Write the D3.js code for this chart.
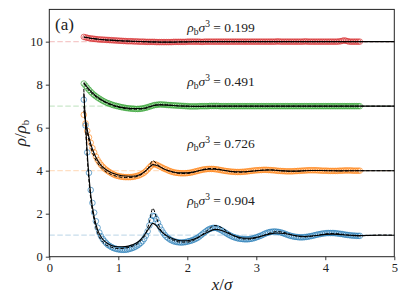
<!DOCTYPE html>
<html lang="en">
<head>
<meta charset="utf-8">
<title>density profiles</title>
<style>
  body { margin: 0; background: #fff; }
  svg text { font-family: "Liberation Serif", "DejaVu Serif", serif; fill: #222; }
</style>
</head>
<body>
<svg id="chart"></svg>
<script src="https://cdn.jsdelivr.net/npm/d3@7"></script>
<script>
// bulk densities, one curve each, shifted up by offset
var densities = ["0.199", "0.491", "0.726", "0.904"];
var offsets = [9, 6, 3, 0];
var colors = ["#d62728", "#2ca02c", "#ff7f0e", "#1f77b4"];
var xTicks = [0, 1, 2, 3, 4, 5];
var yTicks = [0, 2, 4, 6, 8, 10];

// simulation points (circles), x from 0.500 to 4.500 every 0.025, one row = 0.5 sigma
var simX = d3.range(161).map(function(i) { return +(0.5 + 0.025 * i).toFixed(3); });
var simRed = [
  1.22,1.20,1.18,1.16,1.15,1.14,1.13,1.12,1.11,1.10,1.10,1.09,1.09,1.08,1.08,1.07,1.07,1.06,1.06,1.05,
  1.05,1.04,1.04,1.03,1.03,1.02,1.02,1.02,1.02,1.01,1.01,1.01,1.00,1.00,1.00,1.00,0.99,0.99,0.99,0.99,
  0.99,0.99,0.98,0.98,0.98,0.98,0.98,0.98,0.98,0.98,0.98,0.98,0.99,0.99,0.99,0.99,0.99,0.99,0.99,0.99,
  1.00,1.00,1.00,1.00,1.00,1.00,1.00,1.00,0.99,0.99,1.00,1.00,1.00,1.00,1.00,1.00,1.00,1.00,1.00,1.00,
  1.00,1.00,1.00,1.00,1.00,1.00,1.00,1.00,1.00,1.00,1.00,1.00,1.00,1.00,1.00,1.00,1.00,1.00,1.00,1.00,
  1.00,1.00,1.00,1.00,1.00,1.00,1.00,1.00,1.00,1.00,1.00,1.00,1.01,1.01,1.00,1.00,1.00,1.00,1.00,1.00,
  1.00,1.00,1.00,1.00,1.00,1.00,1.00,1.00,1.01,1.01,1.00,1.00,1.00,1.00,1.00,1.00,1.00,1.00,1.00,1.00,
  1.00,1.00,1.00,1.00,1.00,1.00,1.00,1.00,1.01,1.02,1.04,1.06,1.04,1.02,1.00,1.00,1.00,1.00,1.00,1.00,
  1.00];
var simGreen = [
  2.05,1.95,1.85,1.76,1.67,1.59,1.52,1.46,1.40,1.35,1.30,1.25,1.21,1.17,1.14,1.11,1.08,1.05,1.03,1.01,
  0.99,0.97,0.95,0.94,0.92,0.91,0.90,0.89,0.88,0.88,0.87,0.87,0.87,0.88,0.89,0.91,0.93,0.95,0.98,1.00,
  1.03,1.05,1.06,1.07,1.08,1.08,1.07,1.07,1.06,1.05,1.05,1.04,1.04,1.03,1.03,1.02,1.02,1.01,1.01,1.00,
  1.00,0.99,0.99,0.99,0.99,0.99,0.99,1.00,1.00,1.00,1.00,1.00,1.00,1.01,1.01,1.01,1.01,1.01,1.01,1.00,
  1.00,1.00,1.00,1.00,1.00,1.00,1.00,1.00,1.00,1.00,1.00,1.00,1.00,1.00,1.00,1.00,1.00,1.00,1.00,1.00,
  1.00,1.00,1.00,1.00,1.00,1.00,1.00,1.00,1.00,1.00,1.00,1.00,1.00,1.00,1.00,1.00,1.00,1.00,1.00,1.00,
  1.00,1.00,1.00,1.00,1.00,1.00,1.00,1.00,1.00,1.00,1.00,1.00,1.00,1.00,1.00,1.00,1.00,1.00,1.00,1.00,
  1.00,1.00,1.00,1.00,1.00,1.00,1.00,1.00,1.00,1.00,1.00,1.00,1.00,1.00,1.00,1.00,1.00,1.00,1.00,1.00,
  1.00];
var simOrange = [
  3.60,3.20,2.85,2.55,2.30,2.05,1.85,1.66,1.50,1.38,1.27,1.18,1.10,1.04,0.98,0.93,0.88,0.84,0.80,0.77,
  0.75,0.73,0.72,0.71,0.70,0.70,0.70,0.70,0.71,0.72,0.74,0.76,0.78,0.82,0.86,0.91,0.98,1.06,1.15,1.23,
  1.30,1.30,1.28,1.24,1.20,1.16,1.12,1.08,1.05,1.01,0.98,0.95,0.93,0.91,0.90,0.89,0.88,0.88,0.88,0.88,
  0.89,0.90,0.91,0.93,0.95,0.97,0.99,1.01,1.03,1.05,1.06,1.07,1.08,1.08,1.08,1.08,1.07,1.06,1.05,1.03,
  1.02,1.00,0.99,0.98,0.97,0.96,0.95,0.95,0.94,0.94,0.94,0.94,0.95,0.95,0.96,0.97,0.98,0.99,1.00,1.01,
  1.02,1.02,1.03,1.03,1.04,1.04,1.04,1.03,1.03,1.02,1.02,1.01,1.00,0.99,0.99,0.98,0.98,0.97,0.97,0.97,
  0.97,0.97,0.98,0.98,0.99,0.99,1.00,1.00,1.01,1.01,1.02,1.02,1.02,1.02,1.02,1.02,1.01,1.01,1.00,1.00,
  1.00,1.00,0.99,0.99,0.99,0.99,0.99,0.99,1.00,1.00,1.00,1.01,1.01,1.01,1.01,1.01,1.00,1.00,1.00,1.00,
  1.00];
var simBlue = [
  7.30,6.10,4.85,3.90,3.10,2.50,2.05,1.65,1.35,1.12,0.95,0.82,0.72,0.63,0.55,0.50,0.45,0.41,0.38,0.36,
  0.34,0.33,0.32,0.32,0.32,0.33,0.35,0.37,0.40,0.43,0.47,0.52,0.57,0.64,0.72,0.83,0.98,1.18,1.45,1.70,
  1.90,1.88,1.75,1.58,1.40,1.25,1.12,1.01,0.92,0.86,0.80,0.76,0.72,0.70,0.68,0.67,0.66,0.66,0.67,0.68,
  0.70,0.72,0.74,0.77,0.80,0.84,0.88,0.94,1.00,1.07,1.13,1.19,1.25,1.29,1.32,1.34,1.34,1.33,1.30,1.26,
  1.22,1.17,1.12,1.07,1.02,0.98,0.94,0.91,0.88,0.86,0.84,0.83,0.82,0.81,0.81,0.81,0.82,0.83,0.85,0.87,
  0.90,0.93,0.96,0.99,1.03,1.07,1.10,1.13,1.15,1.16,1.17,1.17,1.16,1.15,1.13,1.11,1.08,1.05,1.02,0.99,
  0.97,0.95,0.93,0.92,0.91,0.90,0.90,0.90,0.91,0.92,0.93,0.95,0.96,0.98,1.00,1.02,1.04,1.05,1.07,1.08,
  1.09,1.10,1.10,1.10,1.10,1.10,1.09,1.08,1.07,1.06,1.05,1.03,1.02,1.01,1.00,0.99,0.98,0.98,0.97,0.97,
  0.97];

// theory curves (solid and dashed) on these x knots
var theoryX = [0.5,0.55,0.6,0.65,0.7,0.75,0.8,0.9,1.0,1.1,1.2,1.3,1.4,1.45,1.5,1.55,1.6,
  1.7,1.8,1.9,2.0,2.1,2.2,2.3,2.4,2.5,2.6,2.7,2.8,2.9,3.0,3.1,3.2,3.3,3.4,3.5,3.6,
  3.7,3.8,3.9,4.0,4.1,4.2,4.3,4.4,4.5,4.6,4.8,5.0];
var solidRed = [1.22,1.19,1.16,1.14,1.12,1.10,1.09,1.07,1.05,1.03,1.02,1.01,1.00,0.99,0.99,0.99,0.98,
  0.98,0.98,0.99,0.99,1.00,1.00,1.00,1.00,1.00,1.00,1.00,1.00,1.00,1.00,1.00,1.00,1.00,1.00,1.00,1.00,
  1.00,1.00,1.00,1.00,1.00,1.00,1.00,1.00,1.00,1.00,1.00,1.00];
var dashRed = [1.21,1.18,1.15,1.13,1.11,1.10,1.08,1.06,1.04,1.03,1.01,1.00,0.99,0.99,0.98,0.98,0.98,
  0.98,0.98,0.99,0.99,1.00,1.00,1.00,1.00,1.00,1.00,1.00,1.00,1.00,1.00,1.00,1.00,1.00,1.00,1.00,1.00,
  1.00,1.00,1.00,1.00,1.00,1.00,1.00,1.00,1.00,1.00,1.00,1.00];
var solidGreen = [2.10,1.88,1.70,1.55,1.42,1.31,1.22,1.08,0.98,0.92,0.89,0.89,0.93,0.97,1.02,1.05,1.06,
  1.05,1.03,1.01,1.00,0.99,0.99,1.00,1.00,1.00,1.00,1.00,1.00,1.00,1.00,1.00,1.00,1.00,1.00,1.00,1.00,
  1.00,1.00,1.00,1.00,1.00,1.00,1.00,1.00,1.00,1.00,1.00,1.00];
var dashGreen = [2.05,1.82,1.64,1.50,1.38,1.28,1.19,1.05,0.95,0.89,0.86,0.86,0.90,0.95,1.02,1.06,1.07,
  1.06,1.03,1.01,1.00,0.99,0.99,1.00,1.00,1.00,1.00,1.00,1.00,1.00,1.00,1.00,1.00,1.00,1.00,1.00,1.00,
  1.00,1.00,1.00,1.00,1.00,1.00,1.00,1.00,1.00,1.00,1.00,1.00];
var solidOrange = [3.80,2.90,2.25,1.80,1.48,1.25,1.10,0.90,0.80,0.75,0.74,0.80,1.00,1.15,1.28,1.25,1.18,
  1.03,0.94,0.90,0.90,0.95,1.02,1.07,1.07,1.03,0.98,0.95,0.95,0.97,1.00,1.02,1.03,1.01,0.99,0.98,0.98,
  1.00,1.01,1.01,1.00,1.00,0.99,1.00,1.00,1.00,1.00,1.00,1.00];
var dashOrange = [4.00,2.80,2.10,1.65,1.35,1.15,1.00,0.82,0.72,0.68,0.69,0.76,1.00,1.20,1.47,1.35,1.20,
  1.02,0.92,0.87,0.87,0.93,1.03,1.10,1.10,1.04,0.97,0.93,0.93,0.96,1.00,1.03,1.04,1.02,0.99,0.97,0.98,
  1.00,1.01,1.01,1.01,1.00,0.99,0.99,1.00,1.00,1.00,1.00,1.00];
var solidBlue = [7.60,4.80,2.90,1.85,1.25,0.92,0.72,0.52,0.46,0.47,0.55,0.72,1.10,1.35,1.55,1.45,1.25,
  0.98,0.82,0.74,0.74,0.82,0.98,1.15,1.27,1.22,1.08,0.95,0.87,0.86,0.90,0.98,1.06,1.10,1.08,1.02,0.96,
  0.94,0.96,1.00,1.04,1.05,1.04,1.01,0.99,0.98,0.99,1.00,1.00];
var dashBlue = [7.80,4.60,2.70,1.70,1.10,0.78,0.60,0.44,0.38,0.40,0.48,0.66,1.10,1.60,2.25,1.85,1.35,
  0.95,0.76,0.68,0.68,0.78,0.98,1.25,1.45,1.35,1.12,0.93,0.83,0.82,0.88,0.98,1.10,1.17,1.13,1.03,0.95,
  0.92,0.95,1.00,1.06,1.08,1.06,1.02,0.98,0.97,0.98,1.01,1.00];

var sims = [simRed, simGreen, simOrange, simBlue];
var solids = [solidRed, solidGreen, solidOrange, solidBlue];
var dashes = [dashRed, dashGreen, dashOrange, dashBlue];

var serif = '"Liberation Serif", "DejaVu Serif", serif';
var width = 407, height = 305;
var svg = d3.select("#chart").attr("width", width).attr("height", height);

var x = d3.scaleLinear().domain([0, 5]).range([49.3, 394.3]);
var y = d3.scaleLinear().domain([0, 11.5]).range([256.7, 9.4]);

// faint reference lines at the bulk value
svg.append("g").selectAll("line")
  .data(offsets)
  .enter().append("line")
  .attr("x1", x(0)).attr("x2", x(5))
  .attr("y1", function(d) { return y(d + 1); })
  .attr("y2", function(d) { return y(d + 1); })
  .attr("stroke", function(d, i) { return colors[i]; })
  .attr("stroke-opacity", 0.25)
  .attr("stroke-width", 1.2)
  .attr("stroke-dasharray", "5.5,2.5");

// simulation circles
sims.forEach(function(vals, k) {
  svg.append("g").selectAll("circle")
    .data(vals)
    .enter().append("circle")
    .attr("cx", function(d, i) { return x(simX[i]); })
    .attr("cy", function(d) { return y(d + offsets[k]); })
    .attr("r", 2.8)
    .attr("fill", "none")
    .attr("stroke", colors[k])
    .attr("stroke-opacity", 0.7)
    .attr("stroke-width", 0.9);
});

var line = d3.line().curve(d3.curveMonotoneX);

solids.forEach(function(vals, k) {
  svg.append("path")
    .attr("d", line(vals.map(function(v, i) { return [x(theoryX[i]), y(v + offsets[k])]; })))
    .attr("fill", "none").attr("stroke", "#000").attr("stroke-width", 1.1);
});
dashes.forEach(function(vals, k) {
  svg.append("path")
    .attr("d", line(vals.map(function(v, i) { return [x(theoryX[i]), y(v + offsets[k])]; })))
    .attr("fill", "none").attr("stroke", "#000").attr("stroke-width", 1.0)
    .attr("stroke-dasharray", "3.5,1.8");
});

// curve labels
var labelY = [10.45, 7.95, 5.05, 2.4];
densities.forEach(function(dv, k) {
  var t = svg.append("text")
    .attr("x", x(2.0)).attr("y", y(labelY[k]))
    .style("font-family", serif)
    .style("font-size", "13.5px");
  t.append("tspan").style("font-style", "italic").text("ρ");
  t.append("tspan").attr("dy", 3).style("font-size", "9.5px").text("b");
  t.append("tspan").attr("dy", -3).style("font-style", "italic").text("σ");
  t.append("tspan").attr("dy", -5).style("font-size", "9.5px").text("3");
  t.append("tspan").attr("dy", 5).text(" = " + dv);
});

// axes
var xAxis = svg.append("g")
  .attr("transform", "translate(0," + y(0) + ")")
  .call(d3.axisBottom(x).tickValues(xTicks).tickSize(3.5).tickPadding(3).tickFormat(d3.format("d")));
var yAxis = svg.append("g")
  .attr("transform", "translate(" + x(0) + ",0)")
  .call(d3.axisLeft(y).tickValues(yTicks).tickSize(3.5).tickPadding(3).tickFormat(d3.format("d")));
[xAxis, yAxis].forEach(function(a) {
  a.attr("font-family", null).attr("font-size", null);
  a.select(".domain").remove();
  a.selectAll("line").attr("stroke", "#222").attr("stroke-width", 0.9);
  a.selectAll("text").style("font-family", serif).style("font-size", "12.5px").attr("fill", "#333");
});

svg.append("rect")
  .attr("x", x(0)).attr("y", y(11.5))
  .attr("width", x(5) - x(0)).attr("height", y(0) - y(11.5))
  .attr("fill", "none").attr("stroke", "#222").attr("stroke-width", 1);

// axis titles
var xl = svg.append("text").attr("x", 222).attr("y", 290).attr("text-anchor", "middle")
  .style("font-family", serif).style("font-size", "17px");
xl.append("tspan").style("font-style", "italic").text("x");
xl.append("tspan").text("/");
xl.append("tspan").style("font-style", "italic").text("σ");

var yl = svg.append("text").attr("transform", "translate(26,133) rotate(-90)")
  .attr("text-anchor", "middle").style("font-family", serif).style("font-size", "17px");
yl.append("tspan").style("font-style", "italic").text("ρ");
yl.append("tspan").text("/");
yl.append("tspan").style("font-style", "italic").text("ρ");
yl.append("tspan").attr("dy", 3).style("font-size", "11px").text("b");

svg.append("text").attr("x", 55).attr("y", 30).style("font-family", serif).style("font-size", "17px").text("(a)");
</script>
</body>
</html>
